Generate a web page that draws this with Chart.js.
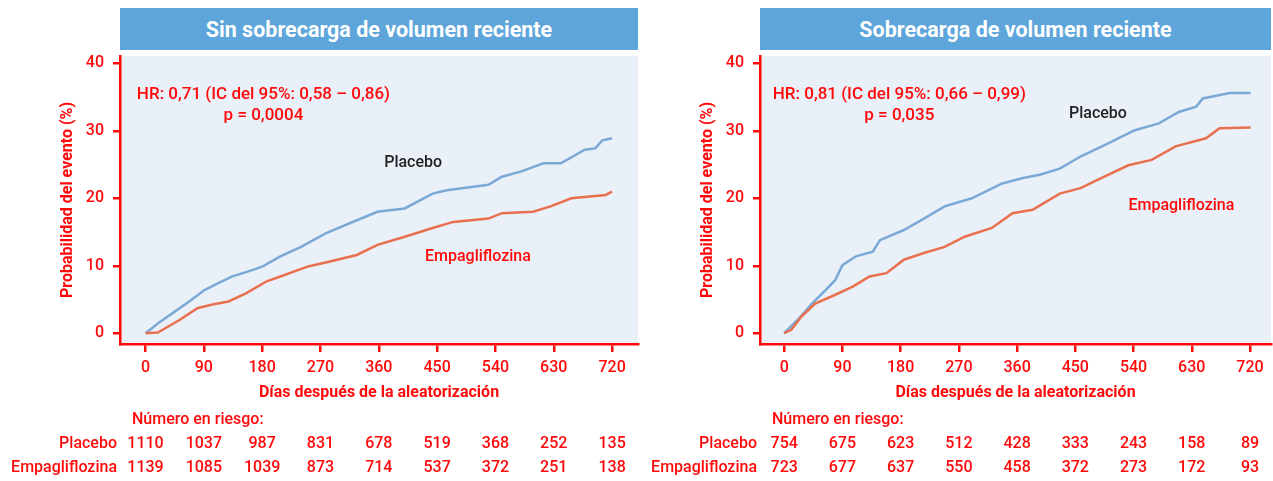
<!DOCTYPE html>
<html>
<head>
<meta charset="utf-8">
<script src="https://cdn.jsdelivr.net/npm/chart.js@4.4.1/dist/chart.umd.min.js"></script>
<style>
  body { margin: 0; width: 1273px; height: 481px; background: #fff; position: relative; overflow: hidden; font-family: Roboto, sans-serif; }
  canvas { position: absolute; top: 0; }
  .head { position: absolute; top: 8px; height: 42px; background: #5DA5DA; color: #fff;
          font: bold 21.5px Roboto, sans-serif; display: flex; align-items: center; justify-content: center; }
</style>
</head>
<body>
<div class="head" style="left:120px;width:518px">Sin sobrecarga de volumen reciente</div>
<div class="head" style="left:760px;width:511px">Sobrecarga de volumen reciente</div>
<canvas id="sin" width="640" height="481" style="left:0"></canvas>
<canvas id="con" width="633" height="481" style="left:640px"></canvas>
<script>
// --- datos ---------------------------------------------------------------
const dayTicks = [0, 90, 180, 270, 360, 450, 540, 630, 720];
const pctTicks = [0, 10, 20, 30, 40];

// Sin sobrecarga de volumen reciente
const sinPlaceboDias = [0, 20, 45, 70, 91, 110, 133, 160, 181, 208, 240, 278, 315, 358, 400, 443, 465, 529, 550, 580, 614, 641, 678, 694, 705, 720];
const sinPlaceboPct  = [0, 1.5, 3.2, 4.9, 6.4, 7.3, 8.4, 9.2, 9.9, 11.4, 12.8, 14.8, 16.3, 18.0, 18.5, 20.7, 21.2, 22.0, 23.2, 24.0, 25.2, 25.2, 27.2, 27.4, 28.6, 28.9];
const sinEmpaDias = [0, 19, 53, 80, 105, 128, 155, 187, 208, 251, 283, 326, 358, 400, 443, 475, 529, 550, 598, 625, 657, 710, 720];
const sinEmpaPct  = [0, 0.1, 2.0, 3.7, 4.3, 4.7, 5.9, 7.7, 8.4, 9.9, 10.6, 11.6, 13.1, 14.3, 15.6, 16.5, 17.0, 17.8, 18.0, 18.8, 20.0, 20.5, 21.0];
const sinRiesgoPlacebo = [1110, 1037, 987, 831, 678, 519, 368, 252, 135];
const sinRiesgoEmpa    = [1139, 1085, 1039, 873, 714, 537, 372, 251, 138];

// Sobrecarga de volumen reciente
const conPlaceboDias = [0, 21, 43, 64, 79, 90, 111, 137, 148, 185, 216, 248, 290, 337, 369, 395, 426, 458, 500, 542, 579, 610, 637, 647, 689, 721];
const conPlaceboPct  = [0, 2.0, 4.4, 6.4, 7.9, 10.1, 11.4, 12.1, 13.8, 15.3, 17.0, 18.8, 20.0, 22.2, 23.0, 23.5, 24.4, 26.2, 28.1, 30.1, 31.1, 32.8, 33.6, 34.8, 35.6, 35.6];
const conEmpaDias = [0, 11, 27, 48, 79, 106, 132, 158, 185, 216, 248, 279, 321, 353, 384, 426, 458, 490, 532, 568, 605, 652, 673, 721];
const conEmpaPct  = [0, 0.5, 2.5, 4.4, 5.7, 6.9, 8.4, 8.9, 10.9, 11.9, 12.8, 14.3, 15.6, 17.8, 18.3, 20.7, 21.5, 23.0, 24.9, 25.7, 27.7, 28.9, 30.4, 30.5];
const conRiesgoPlacebo = [754, 675, 623, 512, 428, 333, 243, 158, 89];
const conRiesgoEmpa    = [723, 677, 637, 550, 458, 372, 273, 172, 93];

// --- estilos ---------------------------------------------------------------
const RED = '#FF0A0A';
const BLUE_LINE = '#7BA9D6';
const ORANGE_LINE = '#E8704F';
const FONT = 'Roboto';

// fondo azul claro del área del gráfico
const plotBg = {
  id: 'plotBg',
  beforeDraw(chart) {
    const { ctx, chartArea: a } = chart;
    ctx.save();
    ctx.fillStyle = '#EAF0F8';
    ctx.fillRect(a.left, a.top, a.right - a.left, a.bottom - a.top);
    ctx.restore();
  }
};

// textos dentro del gráfico + tabla de número en riesgo
const textos = {
  id: 'textos',
  afterDraw(chart, args, opts) {
    const { ctx } = chart;
    const xs = chart.scales.x, ys = chart.scales.y;
    ctx.save();
    ctx.textBaseline = 'middle';
    ctx.textAlign = 'center';
    ctx.fillStyle = RED;
    ctx.font = `500 17px ${FONT}`;
    ctx.fillText(opts.hr, xs.getPixelForValue(opts.hrPos[0]), ys.getPixelForValue(opts.hrPos[1]));
    ctx.fillText(opts.p, xs.getPixelForValue(opts.hrPos[0]), ys.getPixelForValue(opts.pY));
    ctx.font = `500 16px ${FONT}`;
    ctx.fillStyle = '#222';
    ctx.fillText('Placebo', xs.getPixelForValue(opts.placeboPos[0]), ys.getPixelForValue(opts.placeboPos[1]));
    ctx.fillStyle = RED;
    ctx.fillText('Empagliflozina', xs.getPixelForValue(opts.empaPos[0]), ys.getPixelForValue(opts.empaPos[1]));

    // número en riesgo
    ctx.textAlign = 'left';
    ctx.fillText('Número en riesgo:', 132, 420);
    ctx.textAlign = 'right';
    ctx.fillText('Placebo', 117, 444);
    ctx.fillText('Empagliflozina', 117, 468);
    ctx.textAlign = 'center';
    dayTicks.forEach((d, i) => {
      const x = xs.getPixelForValue(d);
      ctx.fillText(String(opts.riesgoPlacebo[i]), x, 444);
      ctx.fillText(String(opts.riesgoEmpa[i]), x, 468);
    });
    ctx.restore();
  }
};

function makeChart(id, cfg) {
  const ctx = document.getElementById(id).getContext('2d');
  return new Chart(ctx, {
    type: 'line',
    data: {
      datasets: [
        {
          data: cfg.empaDias.map((d, i) => ({ x: d, y: cfg.empaPct[i] })),
          borderColor: ORANGE_LINE, borderWidth: 2.5, pointRadius: 0, tension: 0, fill: false
        },
        {
          data: cfg.placeboDias.map((d, i) => ({ x: d, y: cfg.placeboPct[i] })),
          borderColor: BLUE_LINE, borderWidth: 2.5, pointRadius: 0, tension: 0, fill: false
        }
      ]
    },
    options: {
      responsive: false,
      animation: false,
      devicePixelRatio: 1,
      layout: { padding: { top: 56, right: 2, left: 0, bottom: 0 } },
      plugins: {
        legend: { display: false },
        tooltip: { enabled: false },
        textos: cfg.textos
      },
      scales: {
        x: {
          type: 'linear',
          min: cfg.xMin, max: cfg.xMax,
          afterBuildTicks: s => { s.ticks = dayTicks.map(v => ({ value: v })); },
          afterFit: s => { s.height = 137; },
          border: { color: RED, width: 2.5 },
          grid: { drawOnChartArea: false, color: RED, lineWidth: 2.5, tickLength: 8 },
          ticks: { color: RED, font: { family: FONT, size: 16, weight: '500' }, padding: 6, maxRotation: 0, autoSkip: false },
          title: {
            display: true, text: 'Días después de la aleatorización', color: RED,
            font: { family: FONT, size: 16, weight: 'bold' }, padding: { top: 0, bottom: 78 }
          }
        },
        y: {
          type: 'linear',
          min: -1.6, max: 41.1,
          afterBuildTicks: s => { s.ticks = pctTicks.map(v => ({ value: v })); },
          afterFit: s => { s.width = 120; },
          border: { color: RED, width: 2.5 },
          grid: { drawOnChartArea: false, color: RED, lineWidth: 2.5, tickLength: 7 },
          ticks: { color: RED, font: { family: FONT, size: 16, weight: '500' }, padding: 9 },
          title: {
            display: true, text: 'Probabilidad del evento (%)', color: RED,
            font: { family: FONT, size: 16, weight: 'bold' }, padding: { top: 58, bottom: 0 }
          }
        }
      }
    },
    plugins: [plotBg, textos]
  });
}

makeChart('sin', {
  xMin: -39.4, xMax: 760,
  placeboDias: sinPlaceboDias, placeboPct: sinPlaceboPct,
  empaDias: sinEmpaDias, empaPct: sinEmpaPct,
  textos: {
    hr: 'HR: 0,71 (IC del 95%: 0,58 – 0,86)', p: 'p = 0,0004',
    hrPos: [182, 35.3], pY: 32.2,
    placeboPos: [413, 25.2], empaPos: [513, 11.3],
    riesgoPlacebo: sinRiesgoPlacebo, riesgoEmpa: sinRiesgoEmpa
  }
});

makeChart('con', {
  xMin: -37.4, xMax: 752.5,
  placeboDias: conPlaceboDias, placeboPct: conPlaceboPct,
  empaDias: conEmpaDias, empaPct: conEmpaPct,
  textos: {
    hr: 'HR: 0,81 (IC del 95%: 0,66 – 0,99)', p: 'p = 0,035',
    hrPos: [178, 35.3], pY: 32.2,
    placeboPos: [485, 32.5], empaPos: [614, 18.9],
    riesgoPlacebo: conRiesgoPlacebo, riesgoEmpa: conRiesgoEmpa
  }
});
</script>
</body>
</html>
